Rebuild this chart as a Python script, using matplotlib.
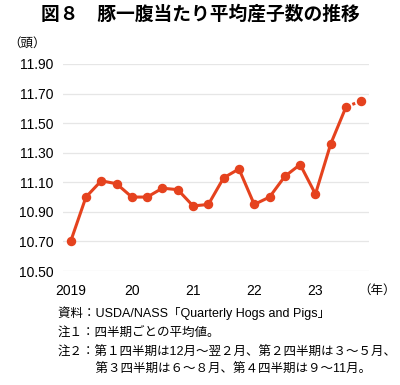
import numpy as np
import matplotlib.pyplot as plt

plt.rcParams['font.family'] = ['Liberation Sans', 'Noto Sans CJK JP', 'DejaVu Sans']

# quarterly averages, 2019 Q1 .. 2023 Q4
values = [10.70, 11.00, 11.11, 11.09,
          11.00, 11.00, 11.06, 11.05,
          10.94, 10.95, 11.13, 11.19,
          10.95, 11.00, 11.14, 11.22,
          11.02, 11.36, 11.61, 11.65]
year_labels = ['2019', '20', '21', '22', '23']
yticks = [10.50, 10.70, 10.90, 11.10, 11.30, 11.50, 11.70, 11.90]

red = '#E5421E'
x = np.arange(len(values))

fig = plt.figure(figsize=(4, 3.85), dpi=100)
ax = fig.add_axes([0.1575, 0.296, 0.765, 0.538])

# solid part, last segment dotted
ax.plot(x[:-1], values[:-1], color=red, lw=2.2, marker='o', ms=5.8, zorder=3)
ax.plot(x[-2:], values[-2:], color=red, lw=2.2, ls=(0, (1, 1.2)), zorder=3)
ax.plot(x[-1], values[-1], 'o', color=red, ms=5.8, zorder=3)

ax.set_xlim(-0.5, 19.5)
ax.set_ylim(10.5, 11.9)
ax.set_yticks(yticks)
ax.set_yticklabels(['%.2f' % v for v in yticks], fontsize=10)
ax.set_xticks(x[::4])
ax.set_xticklabels(year_labels, fontsize=10)
ax.tick_params(length=0)
ax.tick_params(axis='y', pad=7)
ax.tick_params(axis='x', pad=9)
ax.grid(axis='y', color='#e6e6e6', lw=0.9)
for s in ax.spines.values():
    s.set_visible(False)

fig.text(0.5, 0.962, '図８　豚一腹当たり平均産子数の推移', ha='center', va='center',
         fontsize=13.5, fontweight='bold')
fig.text(0.02, 0.885, '（頭）', ha='left', va='center', fontsize=9)
fig.text(0.99, 0.245, '（年）', ha='right', va='center', fontsize=9)

notes = ['資料：USDA/NASS「Quarterly Hogs and Pigs」',
         '注１：四半期ごとの平均値。',
         '注２：第１四半期は12月～翌２月、第２四半期は３～５月、',
         '　　　第３四半期は６～８月、第４四半期は９～11月。']
note_y = [0.187, 0.135, 0.083, 0.039]
for t, yy in zip(notes, note_y):
    fig.text(0.145, yy, t, ha='left', va='center', fontsize=9)

fig.savefig('out.png', dpi=100)
